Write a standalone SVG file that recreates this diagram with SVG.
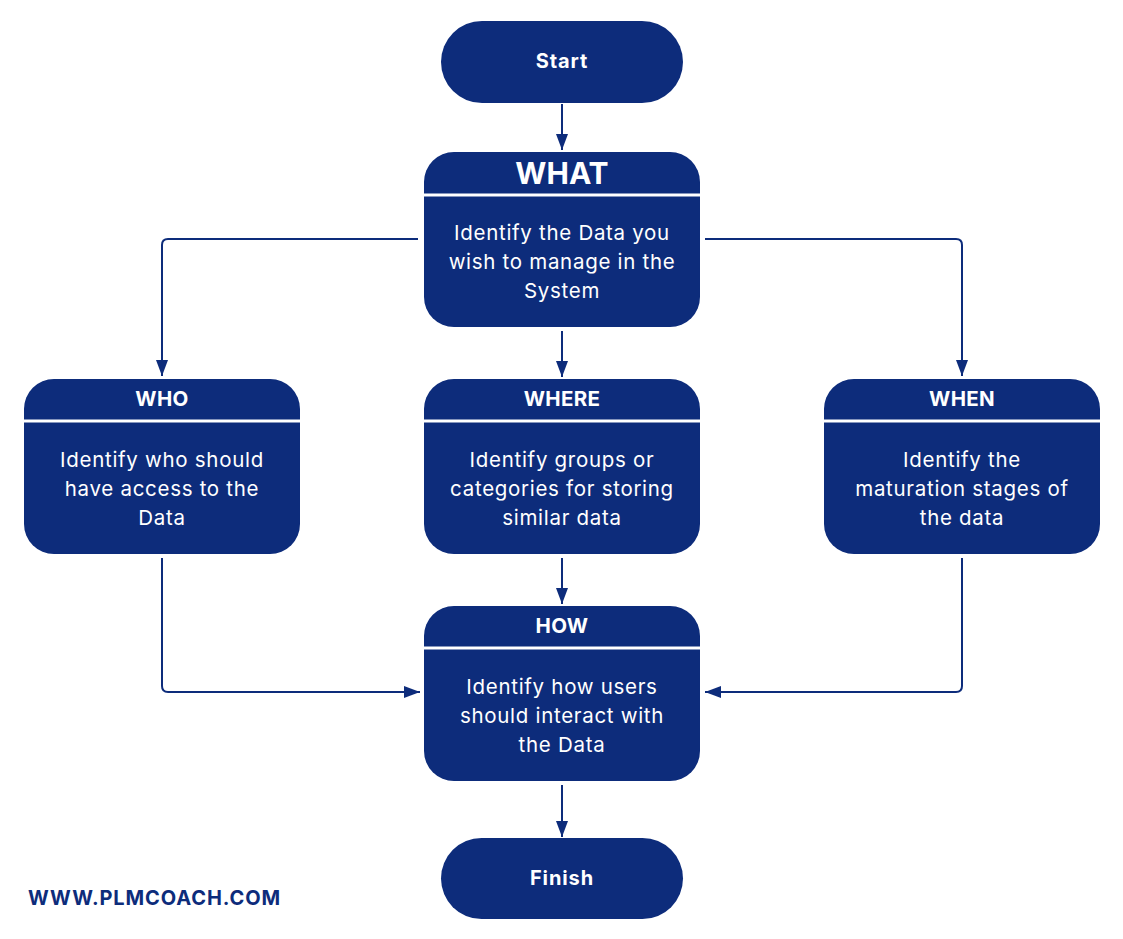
<svg xmlns="http://www.w3.org/2000/svg" width="1123" height="939" viewBox="0 0 1123 939">
<defs>
<style>
.box{fill:#0d2c7b}
.div{stroke:#ffffff;stroke-width:3}
.conn{fill:none;stroke:#0d2c7b;stroke-width:2}
.t{font-family:Inter,"Open Sans",sans-serif;fill:#ffffff;text-anchor:middle}
.hd{font-size:20.5px;font-weight:700;letter-spacing:0.3px}
.bd{font-size:20.5px;font-weight:400;letter-spacing:0.7px}
.term{font-size:20px;font-weight:700;letter-spacing:0.9px}
.url{font-family:Inter,"Open Sans",sans-serif;font-size:20px;font-weight:700;fill:#0d2c7b;letter-spacing:0.9px}
</style>
<marker id="ah" viewBox="0 0 16 12" refX="16" refY="6" markerWidth="16" markerHeight="12" markerUnits="userSpaceOnUse" orient="auto">
<path d="M0,0 L16,6 L0,12 Z" fill="#0d2c7b"/>
</marker>
</defs>
<rect width="1123" height="939" fill="#ffffff"/>
<g id="connectors">
<path class="conn" d="M562,104 V150" marker-end="url(#ah)"/>
<path class="conn" d="M418,239 H168 Q162,239 162,245 V376" marker-end="url(#ah)"/>
<path class="conn" d="M705,239 H956 Q962,239 962,245 V376" marker-end="url(#ah)"/>
<path class="conn" d="M562,331 V377" marker-end="url(#ah)"/>
<path class="conn" d="M562,558 V604" marker-end="url(#ah)"/>
<path class="conn" d="M162,558 V686 Q162,692 168,692 H420" marker-end="url(#ah)"/>
<path class="conn" d="M962,558 V686 Q962,692 956,692 H705" marker-end="url(#ah)"/>
<path class="conn" d="M562,785 V837" marker-end="url(#ah)"/>
</g>
<g id="start">
<rect class="box" x="441" y="21" width="242" height="82" rx="41"/>
<text class="t term" x="562" y="68">Start</text>
</g>
<g id="what">
<rect class="box" x="424" y="152" width="276" height="175" rx="30"/>
<line class="div" x1="424" y1="195" x2="700" y2="195"/>
<text class="t" x="562" y="184" font-size="30" font-weight="700">WHAT</text>
<text class="t bd" x="562" y="240">Identify the Data you</text>
<text class="t bd" x="562" y="269">wish to manage in the</text>
<text class="t bd" x="562" y="298">System</text>
</g>
<g id="who">
<rect class="box" x="24" y="379" width="276" height="175" rx="30"/>
<line class="div" x1="24" y1="421" x2="300" y2="421"/>
<text class="t hd" x="162" y="406">WHO</text>
<text class="t bd" x="162" y="467">Identify who should</text>
<text class="t bd" x="162" y="496">have access to the</text>
<text class="t bd" x="162" y="525">Data</text>
</g>
<g id="where">
<rect class="box" x="424" y="379" width="276" height="175" rx="30"/>
<line class="div" x1="424" y1="421" x2="700" y2="421"/>
<text class="t hd" x="562" y="406">WHERE</text>
<text class="t bd" x="562" y="467">Identify groups or</text>
<text class="t bd" x="562" y="496">categories for storing</text>
<text class="t bd" x="562" y="525">similar data</text>
</g>
<g id="when">
<rect class="box" x="824" y="379" width="276" height="175" rx="30"/>
<line class="div" x1="824" y1="421" x2="1100" y2="421"/>
<text class="t hd" x="962" y="406">WHEN</text>
<text class="t bd" x="962" y="467">Identify the</text>
<text class="t bd" x="962" y="496">maturation stages of</text>
<text class="t bd" x="962" y="525">the data</text>
</g>
<g id="how">
<rect class="box" x="424" y="606" width="276" height="175" rx="30"/>
<line class="div" x1="424" y1="648" x2="700" y2="648"/>
<text class="t hd" x="562" y="633">HOW</text>
<text class="t bd" x="562" y="694">Identify how users</text>
<text class="t bd" x="562" y="723">should interact with</text>
<text class="t bd" x="562" y="752">the Data</text>
</g>
<g id="finish">
<rect class="box" x="441" y="838" width="242" height="81" rx="40.5"/>
<text class="t term" x="562" y="885">Finish</text>
</g>
<text class="url" x="28" y="905">WWW.PLMCOACH.COM</text>
</svg>
